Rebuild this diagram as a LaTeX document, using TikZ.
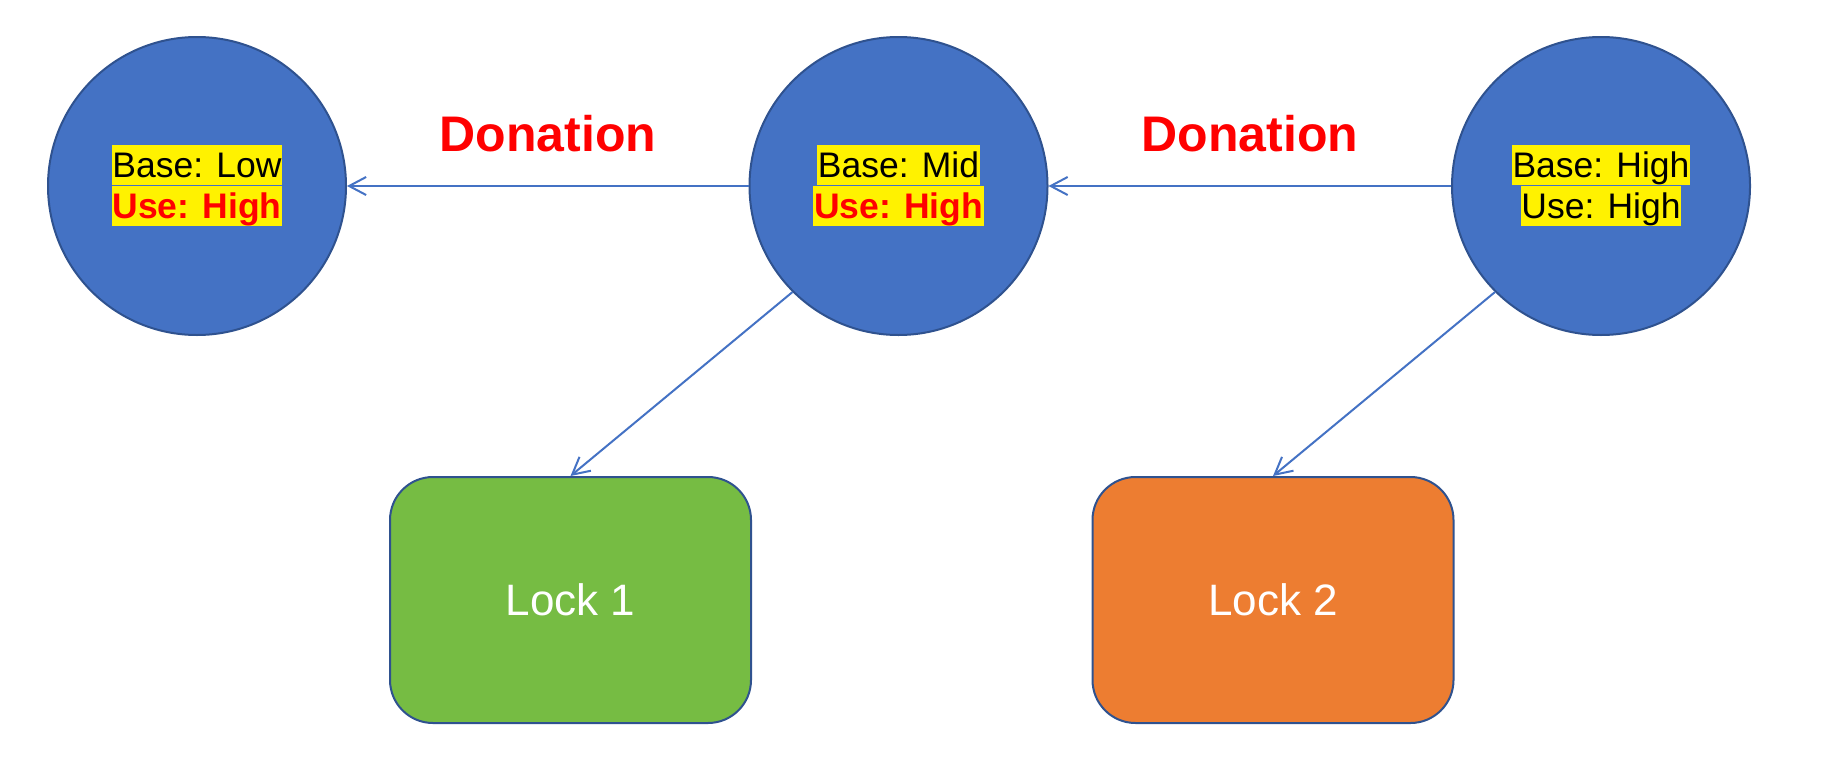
\documentclass[tikz,border=0pt]{standalone}
\usepackage{fontspec}
\setmainfont{Liberation Sans}
\usepackage{xcolor}
\usepackage{tikz}
\usetikzlibrary{arrows.meta,positioning}

\definecolor{prioblue}{RGB}{68,114,196}
\definecolor{prioedge}{RGB}{47,82,143}
\definecolor{lockgreen}{RGB}{118,188,67}
\definecolor{lockorange}{RGB}{237,125,49}

\begin{document}
\begin{tikzpicture}[x=0.5pt,y=0.5pt,yscale=-1,
  task/.style={circle,draw=prioedge,line width=1pt,fill=prioblue,minimum size=149pt,inner sep=0pt},
  lockbox/.style={rectangle,rounded corners=21.5pt,draw=prioedge,line width=1pt,minimum width=180.5pt,minimum height=123pt,text=white,font=\fontsize{22}{26}\selectfont},
  prio/.style={fill=yellow,anchor=base,inner xsep=0.4pt,inner ysep=0pt,text height=16.25pt,text depth=3.75pt,font=\fontsize{17.75}{20}\selectfont},
  boost/.style={prio,text=red,font=\fontsize{17.75}{20}\selectfont\bfseries},
  donate/.style={anchor=base,text=red,font=\fontsize{25}{30}\selectfont\bfseries},
  inherit/.style={draw=prioblue,line width=1pt,-{Straight Barb[length=8.5pt,width=9pt]}}]
%set diagram size
\useasboundingbox (0,0) rectangle (1829,760);

%Shape: Circle [id:low]
\node [task] (low) at (197,186) {};
%Shape: Circle [id:mid]
\node [task] (mid) at (898.5,186) {};
%Shape: Circle [id:high]
\node [task] (high) at (1601,186) {};

%Shape: Rounded Rect [id:lock1]
\node [lockbox,fill=lockgreen] (lock1) at (570.5,600) {Lock 1};
%Shape: Rounded Rect [id:lock2]
\node [lockbox,fill=lockorange] (lock2) at (1273,600) {Lock 2};

%Straight Lines
\draw [inherit] (mid.west) -- (low.east);
\draw [inherit] (high.west) -- (mid.east);
\draw [inherit] (mid.225) -- (lock1.north);
\draw [inherit] (high.225) -- (lock2.north);

% Text Node
\node [prio] (lowbase) at (197,177) {Base: Low};
\node [boost] (lowuse) at (197,218.5) {Use: High};
% Text Node
\node [prio] (midbase) at (898.5,177) {Base: Mid};
\node [boost] (miduse) at (898.5,218.5) {Use: High};
% Text Node
\node [prio] (highbase) at (1601,177) {Base: High};
\node [prio] (highuse) at (1601,218.5) {Use: High};
% Text Node
\node [donate] (don1) at (548,151) {Donation};
\node [donate] (don2) at (1250,151) {Donation};

\end{tikzpicture}
\end{document}
